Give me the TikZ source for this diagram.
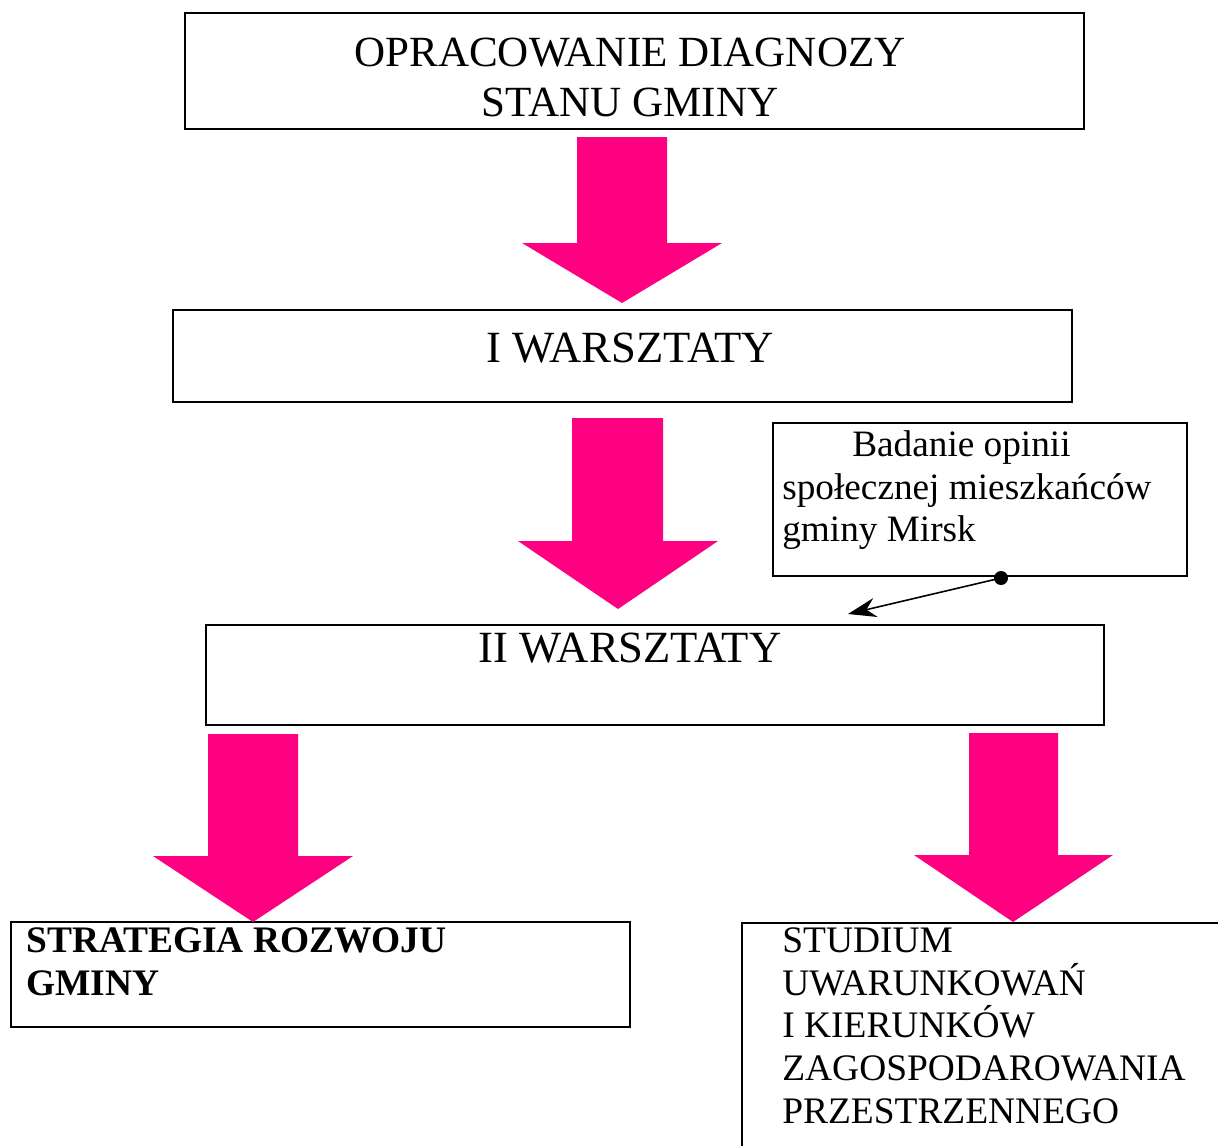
\documentclass[tikz,border=0pt]{standalone}
\usepackage{fontspec}
\setmainfont{Liberation Serif}
\usetikzlibrary{arrows.meta}
\definecolor{strzalka}{RGB}{255,0,128}
\tikzset{
  ramka/.style={draw,line width=1.1pt,inner sep=0pt,anchor=north west},
  napis/.style={inner sep=0pt},
  duzy/.style={font=\fontsize{24.5}{28.35}\selectfont},
  sredni/.style={font=\fontsize{25.4}{28.35}\selectfont},
  maly/.style={font=\fontsize{21.3}{24.4}\selectfont},
  blok/.style={fill=strzalka},
  wskaz/.style={-{Stealth[length=16pt,width=11pt]},line width=0.9pt}
}
\begin{document}
\begin{tikzpicture}[x=0.02cm,y=-0.02cm]
\useasboundingbox (0,0) rectangle (1218,1146);
\clip (0,0) rectangle (1218,1146);
% ramki
\node[ramka,minimum width=17.98cm,minimum height=2.32cm] (diag) at (184,12){};
\node[ramka,minimum width=17.98cm,minimum height=1.84cm] (warsz1) at (172,309){};
\node[ramka,minimum width=8.28cm,minimum height=3.06cm] (opinia) at (772,422){};
\node[ramka,minimum width=17.96cm,minimum height=2.0cm] (warsz2) at (205,624){};
\node[ramka,minimum width=12.38cm,minimum height=2.1cm] (strat) at (10,921){};
\node[ramka,minimum width=12cm,minimum height=8cm] (studium) at (741,922){};
% napisy
\node[napis,duzy,align=center,anchor=north] (diagT) at (630,38){OPRACOWANIE DIAGNOZY\\STANU GMINY};
\node[napis,sredni,anchor=north] (warsz1T) at (630,333){I WARSZTATY};
\node[napis,sredni,anchor=north] (warsz2T) at (630,633){II WARSZTATY};
\node[napis,maly,align=left,anchor=north west,font=\fontsize{21.2}{24.4}\selectfont] (opiniaT) at (782,430){\hspace*{1.4cm}Badanie opinii\\społecznej mieszkańców\\gminy Mirsk};
\node[napis,maly,align=left,anchor=north west,font=\bfseries\fontsize{21.3}{24.4}\selectfont] (stratT) at (26,927){STRATEGIA ROZWOJU\\GMINY};
\node[napis,maly,align=left,anchor=north west] (studiumT) at (782,927){STUDIUM\\UWARUNKOWAŃ\\I KIERUNKÓW\\ZAGOSPODAROWANIA\\PRZESTRZENNEGO};
% strzalki
\fill[blok] (577,137) -- (667,137) -- (667,243) -- (722,243) -- (622,303) -- (522,243) -- (577,243) -- cycle;
\fill[blok] (572,418) -- (663,418) -- (663,541) -- (718,541) -- (618,609) -- (518,541) -- (572,541) -- cycle;
\fill[blok] (208,734) -- (298,734) -- (298,856) -- (353,856) -- (253,922) -- (153,856) -- (208,856) -- cycle;
\fill[blok] (969,733) -- (1058,733) -- (1058,855) -- (1113,855) -- (1013,922) -- (914,855) -- (969,855) -- cycle;
% wskaznik
\coordinate (kropka) at (1001,578);
\coordinate (cel) at (848,614);
\fill (kropka) circle (7);
\draw[wskaz] (kropka) -- (cel);
\end{tikzpicture}
\end{document}
